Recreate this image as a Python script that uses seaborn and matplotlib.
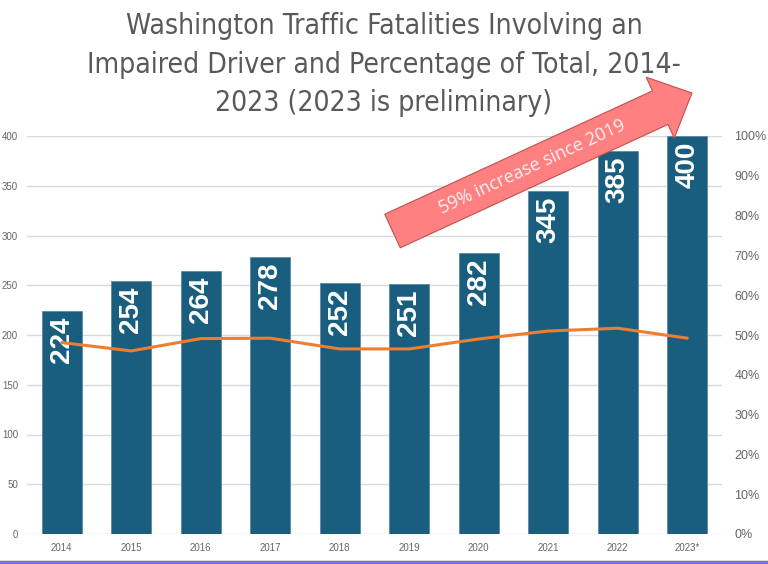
import numpy as np
import matplotlib
matplotlib.use('Agg')
import matplotlib.pyplot as plt
import matplotlib.patches as mpatches
import seaborn as sns

# Chart data
years = ['2014', '2015', '2016', '2017', '2018', '2019', '2020', '2021', '2022', '2023*']
fatalities = [224, 254, 264, 278, 252, 251, 282, 345, 385, 400]
impaired_pct = [48.1, 46.0, 49.1, 49.2, 46.5, 46.5, 49.0, 51.0, 51.7, 49.2]
title_lines = ['Washington Traffic Fatalities Involving an',
               'Impaired Driver and Percentage of Total, 2014-',
               '2023 (2023 is preliminary)']
arrow_text = '59% increase since 2019'

bar_color = '#1a5e7f'
line_color = '#ed7d31'
tick_color = '#666666'

sns.set_style('white')
plt.rcParams['font.family'] = ['Liberation Sans', 'DejaVu Sans']

W, H = 768, 564
fig = plt.figure(figsize=(W / 100, H / 100), dpi=100)
ax = fig.add_axes([27 / W, 1 - 534 / H, (722 - 27) / W, (534 - 136) / H])

sns.barplot(x=years, y=fatalities, color=bar_color, width=0.575,
            saturation=1, edgecolor='#5f8aa3', linewidth=0.6, ax=ax)
ax.set_ylim(0, 400)
ax.set_xlim(-0.5, len(years) - 0.5)
ax.set_yticks(np.arange(0, 401, 50))
ax.yaxis.grid(True, color='#d9d9d9', linewidth=1)
ax.set_axisbelow(True)
for s in ax.spines.values():
    s.set_visible(False)
ax.tick_params(axis='y', length=0, pad=6.5, labelsize=7, labelcolor=tick_color)
ax.tick_params(axis='x', length=0, pad=6.5, labelsize=7, labelcolor=tick_color)
ax.set_xlabel('')
ax.set_ylabel('')

# value labels inside bars
for patch, val in zip(ax.patches, fatalities):
    ax.annotate(str(val), (patch.get_x() + patch.get_width() / 2, patch.get_height()),
                xytext=(0, -4), textcoords='offset points', rotation=90,
                ha='center', va='top', color='white', fontsize=20, fontweight='bold')

# percentage line on secondary axis
ax2 = ax.twinx()
sns.lineplot(x=np.arange(len(years)), y=impaired_pct, color=line_color,
             linewidth=2.2, sort=False, ax=ax2)
ax2.set_ylim(0, 100)
ax2.set_yticks(np.arange(0, 101, 10))
ax2.set_yticklabels([f'{v}%' for v in range(0, 101, 10)])
ax2.set_xlim(-0.5, len(years) - 0.5)
for s in ax2.spines.values():
    s.set_visible(False)
ax2.tick_params(axis='y', length=0, pad=9, labelsize=9, labelcolor=tick_color)
ax2.grid(False)

# title
for txt, base in zip(title_lines, [34, 73, 111]):
    fig.text(0.5, 1 - base / H, txt, ha='center', va='baseline', fontsize=20.3,
             color='#595959', family=['DejaVu Sans'], stretch='condensed')

# big arrow annotation (pixel geometry, y measured from top)
tail = np.array([392.5, 231.0])
tip = np.array([692.0, 93.0])
u = (tip - tail) / np.linalg.norm(tip - tail)
n = np.array([-u[1], u[0]])
shaft_hw, head_hw, head_len = 18.5, 33.5, 35.0
hb = tip - u * head_len
pts = [tail + n * shaft_hw, hb + n * shaft_hw, hb + n * head_hw, tip,
       hb - n * head_hw, hb - n * shaft_hw, tail - n * shaft_hw]
pts = [(p[0] / W, 1 - p[1] / H) for p in pts]
fig.add_artist(mpatches.Polygon(pts, closed=True, transform=fig.transFigure,
                                facecolor='#ff8080', edgecolor='#c0504d',
                                linewidth=0.8, zorder=10))
angle = np.degrees(np.arctan2(-(tip[1] - tail[1]), tip[0] - tail[0]))
fig.text(532 / W, 1 - 167 / H, arrow_text, rotation=angle, rotation_mode='anchor',
         ha='center', va='center', color='#fff2f2', fontsize=13, zorder=11,
         family=['Open Sans', 'DejaVu Sans'])

# bottom border strip
fig.add_artist(mpatches.Rectangle((0, 0), 1, 3 / H, transform=fig.transFigure,
                                  facecolor='#7b6cf0', edgecolor='none'))
fig.add_artist(mpatches.Rectangle((0, 3 / H), 1, 1 / H, transform=fig.transFigure,
                                  facecolor='#dddddd', edgecolor='none'))

fig.savefig('out.png', dpi=100)
